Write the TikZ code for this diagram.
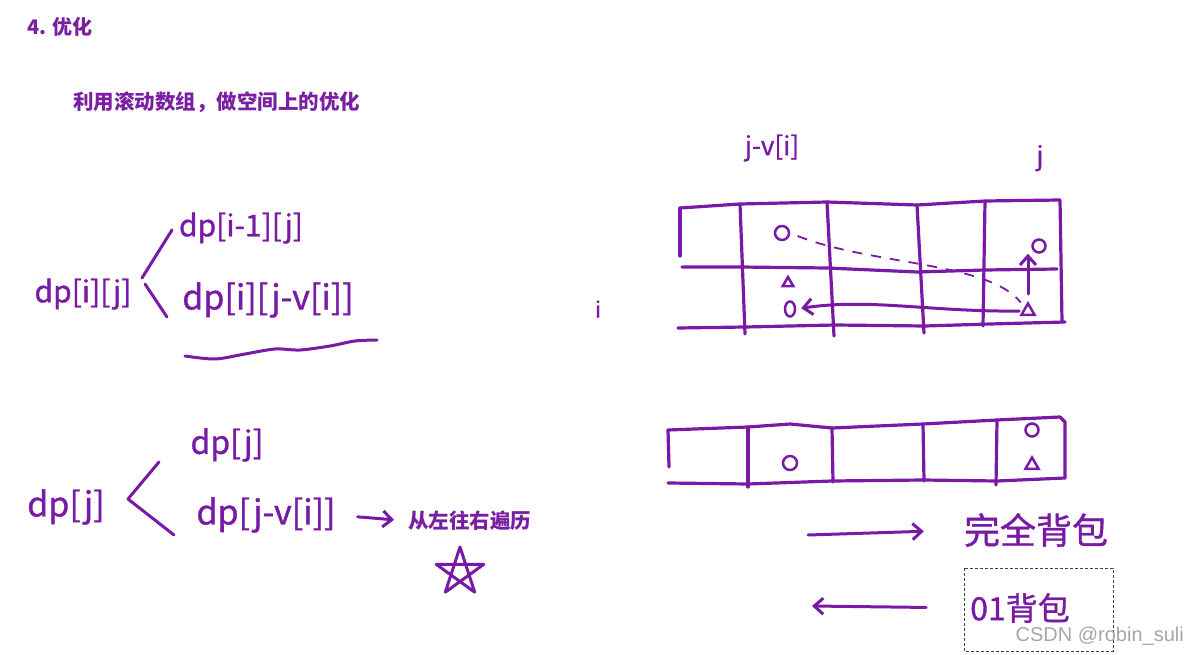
\documentclass[tikz,border=0pt]{standalone}
\usepackage{fontspec}
\usepackage{tikz}
\usetikzlibrary{
    arrows.meta,
    positioning,
    shapes.geometric,
    calc
}
\newfontfamily\cjk{Noto Sans CJK SC}
\newfontfamily\handfont[FakeBold=1]{Noto Sans CJK SC}
\setsansfont{Liberation Sans}
\definecolor{pen}{RGB}{121,26,166}
\definecolor{ink}{RGB}{122,31,162}

\begin{document}
\begin{tikzpicture}[
    x=1pt, y=-1pt,
    >={Straight Barb[length=9pt,width=16pt]},
    pen/.style={draw=pen, line width=3pt, line cap=round, line join=round},
    cell/.style={draw=pen, line width=3.2pt, line cap=round, line join=round},
    hand/.style={text=pen, inner sep=0pt, font=\handfont\fontsize{#1}{#1}\selectfont},
    hand/.default=30,
    head/.style={text=ink, inner sep=0pt, anchor=west, font=\cjk\bfseries\fontsize{#1}{#1}\selectfont},
    head/.default=20,
    ring/.style={circle, draw=pen, line width=2.5pt, minimum size=#1, inner sep=0pt},
    tri/.style={regular polygon, regular polygon sides=3, draw=pen, line width=2.5pt,
        minimum size=#1, inner sep=0pt}
]
\useasboundingbox (0,0) rectangle (1188,655);

% headings
\node[head] (title) at (27,27) {4. 优化};
\node[head=20.5] (sub) at (73,102) {利用滚动数组，做空间上的优化};

% 2-D recurrence
\node[hand] (dpij) at (83,294) {dp[i][j]};
\node[hand] (prev) at (241,228) {dp[i-1][j]};
\node[hand=34] (take) at (268,300) {dp[i][j-v[i]]};
\coordinate (forkA) at (142,278);
\coordinate (forkB) at (145,284);
\draw[pen] (forkA) -- (172,230);
\draw[pen] (forkB) -- (167,317);
\draw[pen] plot[smooth] coordinates {(185,356) (215,359) (245,354) (275,349)
    (300,350) (330,346) (355,341) (377,340)};

% 1-D recurrence
\node[hand=34] (dpj) at (66,507) {dp[j]};
\node[hand=32] (keep) at (227,445) {dp[j]};
\node[hand=34] (knap) at (266,515) {dp[j-v[i]]};
\draw[pen] (159,462) -- (128,499) -- (174,535);
\node[head=20.5] (trav) at (408,521) {从左往右遍历};
\draw[pen, ->, shorten <=22pt, shorten >=14pt] (knap.east) -- (trav.west);
\coordinate (star) at (460,572);
\draw[pen] ($(star)+(-90:25)$) -- ($(star)+(54:25)$) -- ($(star)+(198:25)$)
    -- ($(star)+(-18:25)$) -- ($(star)+(126:25)$) -- cycle;

% 2-D table
\node[hand=26] (jv) at (772,148) {j-v[i]};
\node[hand=26] (jj) at (1040,158) {j};
\node[hand=22] (ii) at (598,309) {i};
\draw[cell] (680,208) -- (740,204) -- (827,202) -- (917,205) -- (985,201) -- (1060,200)
    -- (1062,322);
\draw[cell] (682,267) -- (740,267) -- (827,268) -- (917,272) -- (985,270) -- (1057,269);
\draw[cell] (678,328) -- (745,327) -- (835,325) -- (925,326) -- (990,324) -- (1065,322);
\draw[cell] (680,208) -- (680,256);
\draw[cell] (740,204) -- (745,334);
\draw[cell] (827,202) -- (834,336);
\draw[cell] (917,205) -- (924,333);
\draw[cell] (985,201) -- (983,326);

\node[ring=14pt] (ra) at (782,233) {};
\node[ring=13pt] (rj) at (1039,246) {};
\node[tri=15pt] (tj) at (1028,311) {};
\node[tri=12pt] (ta) at (788,283) {};
\node[ellipse, draw=pen, line width=2.5pt, minimum width=10pt, minimum height=15pt,
    inner sep=0pt] (oa) at (790,309) {};
\draw[pen, ->, shorten <=7pt] (tj.north) -- (tj.north |- rj.south);
\draw[pen, ->, shorten <=3pt, shorten >=5pt] (tj.west) .. controls (930,312) and (870,298) .. (oa.east);
\draw[draw=pen, line width=1.8pt, dash pattern=on 10pt off 9pt, shorten <=8pt, shorten >=6pt]
    (ra.east) .. controls (870,265) and (990,262) .. (tj.north west);

% rolling array
\draw[cell] (668,430) -- (748,427) -- (790,424) -- (832,428) -- (923,424) -- (997,420)
    -- (1060,417) -- (1065,422) -- (1065,478);
\draw[cell] (668,483) -- (748,484) -- (832,481) -- (923,480) -- (997,481) -- (1065,478);
\draw[cell] (668,430) -- (669,467);
\draw[cell] (748,427) -- (748,487);
\draw[cell] (832,428) -- (833,482);
\draw[cell] (923,424) -- (924,481);
\draw[cell] (997,420) -- (996,485);
\node[ring=14pt] (rb) at (790,463) {};
\node[ring=13pt] (rk) at (1032,430) {};
\node[tri=15pt] (tk) at (1032,465) {};

% directions
\node[hand=36] (full) at (1036,530) {完全背包};
\node[hand=32] (zero) at (1020,608) {01背包};
\coordinate (fullA) at (808,535);
\coordinate (zeroA) at (812,606);
\draw[pen, ->, shorten >=40pt] (fullA) -- (full.west);
\draw[pen, <-, shorten >=44pt] (zeroA) -- (zero.west);
\draw[black!75, line width=0.8pt, dash pattern=on 3pt off 2pt] (964,568) rectangle (1113,651);
\node[text=black!35, inner sep=0pt, anchor=east, font=\sffamily\fontsize{20}{20}\selectfont]
    (mark) at (1184,636) {CSDN @robin\_suli};

\end{tikzpicture}
\end{document}
